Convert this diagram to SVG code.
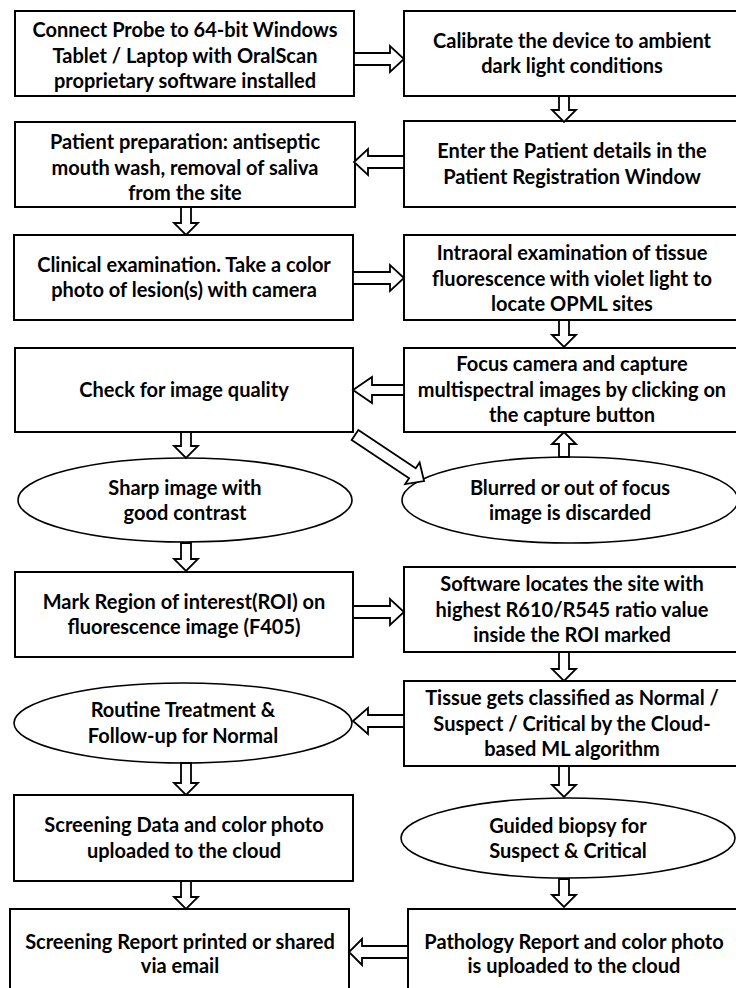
<svg xmlns="http://www.w3.org/2000/svg" width="736" height="988" viewBox="0 0 736 988">
<style>
.box{fill:#fff;stroke:#000;stroke-width:2}
.ell{fill:#fff;stroke:#000;stroke-width:1.6}
.arr{fill:#fff;stroke:#000;stroke-width:1.8;stroke-linejoin:miter}
text{font-family:Lato,"Open Sans","Liberation Sans",sans-serif;font-weight:bold;font-size:20px;fill:#000;text-anchor:middle}
</style>
<rect width="736" height="988" fill="#fff"/>
<g id="n1"><rect class="box" x="15" y="11" width="339" height="85"/>
<text x="185" y="37">Connect Probe to 64-bit Windows</text><text x="185" y="62.5">Tablet / Laptop with OralScan</text><text x="185" y="88">proprietary software installed</text></g>
<g id="n2"><rect class="box" x="404" y="11" width="338" height="85"/>
<text x="572" y="48">Calibrate the device to ambient</text><text x="572" y="73">dark light conditions</text></g>
<g id="n3"><rect class="box" x="15" y="122" width="340" height="85"/>
<text x="185" y="149">Patient preparation: antiseptic</text><text x="185" y="175">mouth wash, removal of saliva</text><text x="185" y="200">from the site</text></g>
<g id="n4"><rect class="box" x="404" y="121" width="338" height="86"/>
<text x="572" y="158">Enter the Patient details in the</text><text x="572" y="184">Patient Registration Window</text></g>
<g id="n5"><rect class="box" x="14" y="235" width="339" height="85"/>
<text x="184" y="272">Clinical examination. Take a color</text><text x="184" y="297">photo of lesion(s) with camera</text></g>
<g id="n6"><rect class="box" x="404" y="235" width="338" height="85"/>
<text x="572" y="260">Intraoral examination of tissue</text><text x="572" y="285.5">fluorescence with violet light to</text><text x="572" y="311">locate OPML sites</text></g>
<g id="n7"><rect class="box" x="15" y="348" width="338" height="84"/>
<text x="184" y="397">Check for image quality</text></g>
<g id="n8"><rect class="box" x="404" y="348" width="338" height="84"/>
<text x="572" y="371">Focus camera and capture</text><text x="572" y="396.5">multispectral images by clicking on</text><text x="572" y="422">the capture button</text></g>
<g id="n9"><ellipse class="ell" cx="185" cy="500" rx="167" ry="42"/>
<text x="185" y="495">Sharp image with</text><text x="185" y="520">good contrast</text></g>
<g id="n10"><ellipse class="ell" cx="570" cy="500" rx="168" ry="43"/>
<text x="570" y="495">Blurred or out of focus</text><text x="570" y="520">image is discarded</text></g>
<g id="n11"><rect class="box" x="15" y="572" width="338" height="85"/>
<text x="184" y="609">Mark Region of interest(ROI) on</text><text x="184" y="634">fluorescence image (F405)</text></g>
<g id="n12"><rect class="box" x="404" y="567" width="338" height="85"/>
<text x="572" y="591">Software locates the site with</text><text x="572" y="616.5">highest R610/R545 ratio value</text><text x="572" y="642">inside the ROI marked</text></g>
<g id="n13"><ellipse class="ell" cx="183" cy="723" rx="169" ry="40"/>
<text x="183" y="717">Routine Treatment &amp;</text><text x="183" y="743">Follow-up for Normal</text></g>
<g id="n14"><rect class="box" x="404" y="681" width="338" height="85"/>
<text x="572" y="705">Tissue gets classified as Normal /</text><text x="572" y="730.5">Suspect / Critical by the Cloud-</text><text x="572" y="756">based ML algorithm</text></g>
<g id="n15"><rect class="box" x="14" y="795" width="339" height="86"/>
<text x="184" y="832">Screening Data and color photo</text><text x="184" y="858">uploaded to the cloud</text></g>
<g id="n16"><ellipse class="ell" cx="568" cy="838" rx="167" ry="40"/>
<text x="568" y="833">Guided biopsy for</text><text x="568" y="858">Suspect &amp; Critical</text></g>
<g id="n17"><rect class="box" x="10" y="909" width="339" height="90"/>
<text x="180" y="949">Screening Report printed or shared</text><text x="180" y="973">via email</text></g>
<g id="n18"><rect class="box" x="408" y="909" width="334" height="90"/>
<text x="574" y="949">Pathology Report and color photo</text><text x="574" y="973">is uploaded to the cloud</text></g>
<g id="connectors">
<polygon class="arr" points="354,53 390,53 390,46 404,59 390,72 390,65 354,65"/>
<polygon class="arr" points="559,96 569,96 569,110 576,110 564,122 552,110 559,110"/>
<polygon class="arr" points="404,156 368,156 368,149 354,162 368,175 368,168 404,168"/>
<polygon class="arr" points="181,207 191,207 191,223 198,223 186,235 174,223 181,223"/>
<polygon class="arr" points="353,272 390,272 390,265 404,278 390,291 390,284 353,284"/>
<polygon class="arr" points="559,320 569,320 569,335 576,335 564,347 552,335 559,335"/>
<polygon class="arr" points="404,385 372,385 372,377 353,390 372,403 372,395 404,395"/>
<polygon class="arr" points="181,432 191,432 191,446 198,446 186,458 174,446 181,446"/>
<polygon class="arr" points="559,457 569,457 569,444 576,444 564,432 552,444 559,444"/>
<polygon class="arr" transform="translate(355,435) rotate(33.7)" points="0,-6 69,-6 69,-13 83,0 69,13 69,6 0,6"/>
<polygon class="arr" points="181,543 191,543 191,559 198,559 186,571 174,559 181,559"/>
<polygon class="arr" points="353,606 390,606 390,599 404,612 390,625 390,618 353,618"/>
<polygon class="arr" points="559,652 569,652 569,669 576,669 564,681 552,669 559,669"/>
<polygon class="arr" points="404,715 368,715 368,708 353,721 368,734 368,727 404,727"/>
<polygon class="arr" points="181,763 191,763 191,783 198,783 186,795 174,783 181,783"/>
<polygon class="arr" points="559,766 569,766 569,785 576,785 564,797 552,785 559,785"/>
<polygon class="arr" points="181,881 191,881 191,897 198,897 186,909 174,897 181,897"/>
<polygon class="arr" points="559,879 569,879 569,895 576,895 564,907 552,895 559,895"/>
<polygon class="arr" points="408,946 362,946 362,939 349,952 362,965 362,958 408,958"/>
</g>
</svg>
